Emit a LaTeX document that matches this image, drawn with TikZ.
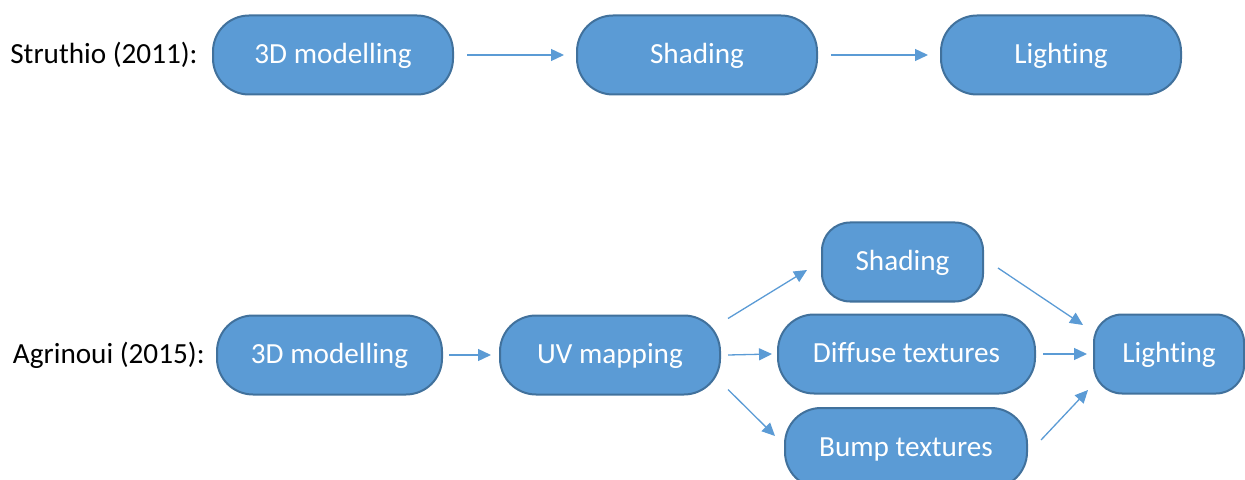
\documentclass[tikz,border=0pt]{standalone}
\usepackage{fontspec}
\setmainfont{Carlito}[Ligatures=NoCommon]
\usetikzlibrary{arrows.meta,positioning}
\definecolor{boxfill}{HTML}{5B9BD5}
\definecolor{boxline}{HTML}{41719C}
\begin{document}
\begin{tikzpicture}[x=0.5pt,y=-0.5pt,
    font=\fontsize{14.6}{17}\selectfont,
    stage/.style={draw=boxline, line width=1pt, fill=boxfill, text=white,
        minimum height=39.5pt, rounded corners=18pt, inner sep=0pt,
        text height=0.9em, text depth=0.05em},
    short/.style={stage, rounded corners=14pt},
    link/.style={-{Triangle[length=6.5pt,width=6pt]}, draw=boxfill, line width=0.65pt},
    author/.style={inner sep=0pt}]
    \useasboundingbox (0,0) rectangle (1245,480);
    % Struthio (2011)
    \node[stage, minimum width=120pt] (mod1) at (333,55) {3D modelling};
    \node[stage, minimum width=120pt] (shd1) at (697,55) {Shading};
    \node[stage, minimum width=120pt] (lgt1) at (1061,55) {Lighting};
    \node[author, left=7pt of mod1] {Struthio (2011):};
    \draw[link, shorten <=6.5pt, shorten >=6pt] (mod1) -- (shd1);
    \draw[link, shorten <=6.5pt, shorten >=6pt] (shd1) -- (lgt1);
    % Agrinoui (2015)
    \node[stage, minimum width=112.5pt] (mod2) at (329.5,355) {3D modelling};
    \node[stage, minimum width=110pt] (uvm) at (610,355) {UV mapping};
    \node[short, minimum width=80.5pt] (shd2) at (902.5,262) {Shading};
    \node[stage, minimum width=128.5pt] (dif) at (906.5,354) {Diffuse textures};
    \node[stage, minimum width=121pt, minimum height=40pt] (bmp) at (906,448) {Bump textures};
    \node[short, minimum width=75pt] (lgt2) at (1169,354) {Lighting};
    \node[author, left=5.5pt of mod2] {Agrinoui (2015):};
    \draw[link, shorten <=3pt, shorten >=4pt] (mod2) -- (uvm);
    \draw[link] ([shift={(7,4)}]uvm.north east) -- ([shift={(-14,8)}]shd2.west);
    \draw[link] ([shift={(7,0)}]uvm.east) -- ([shift={(-5,0)}]dif.west);
    \draw[link] ([shift={(7,-6)}]uvm.south east) -- ([shift={(-9,-12)}]bmp.west);
    \draw[link] ([shift={(14,6)}]shd2.east) -- ([shift={(-10,-29)}]lgt2.west);
    \draw[link] ([shift={(7,0)}]dif.east) -- ([shift={(-6,0)}]lgt2.west);
    \draw[link] ([shift={(13,-8)}]bmp.east) -- ([shift={(-5,36)}]lgt2.west);
\end{tikzpicture}
\end{document}
